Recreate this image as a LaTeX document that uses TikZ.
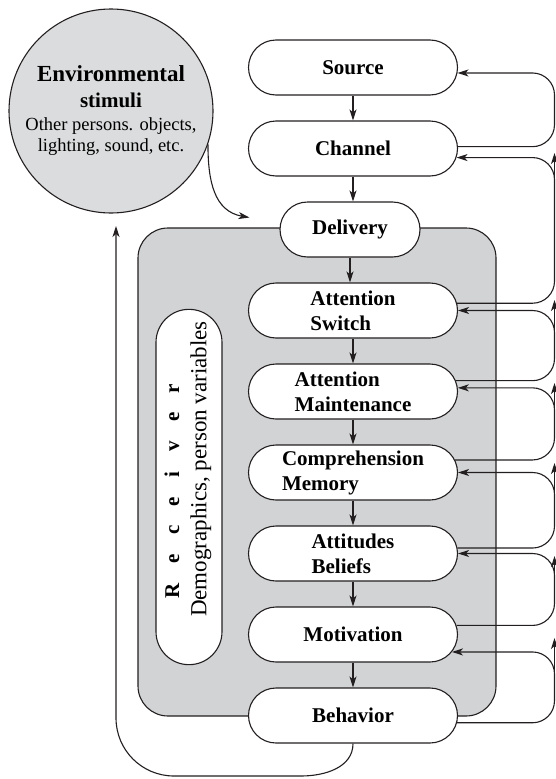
\documentclass[tikz,border=0pt]{standalone}
\usepackage{fontspec}
\setmainfont{Liberation Serif}
\usetikzlibrary{shapes.misc,arrows.meta,calc}
\definecolor{ink}{RGB}{35,31,32}
\definecolor{panelgray}{RGB}{209,211,212}
\definecolor{envgray}{RGB}{219,220,221}
\tikzset{
  stage/.style={rounded rectangle, draw=ink, fill=white, line width=1.1pt,
    minimum width=209pt, minimum height=55pt, inner sep=0pt, align=left,
    font=\fontsize{21}{25}\selectfont\bfseries},
  flow/.style={draw=ink, line width=1.1pt, -{Stealth[length=11pt,width=7pt,inset=3pt]}},
  feedback/.style={flow, rounded corners=22pt},
}
\newcommand{\lsp}{\hspace{19.5pt}}

\begin{document}
\begin{tikzpicture}[x=1pt,y=-1pt]
    \useasboundingbox (0,0) rectangle (556,779);

    % receiver panel and environment
    \node[draw=ink, fill=panelgray, line width=1.1pt, rounded corners=30pt, minimum width=358pt, minimum height=488pt] at (317,472) (panel){};
    \node[circle, draw=ink, fill=envgray, line width=1.1pt, minimum size=204pt, inner sep=0pt, align=center, font=\fontsize{18.5}{21}\selectfont] at (111,111) (env){{\fontsize{23}{26}\selectfont\bfseries Environmental}\\[5pt]{\fontsize{21}{24}\selectfont\bfseries stimuli}\\[2pt]{Other persons. objects,}\\{lighting, sound, etc.}};

    \node[rounded rectangle, draw=ink, fill=white, line width=1.1pt, minimum width=362pt, minimum height=66pt, rotate=90] at (189,487) (rcv){};
    \node[rotate=90, font=\fontsize{21}{25}\selectfont\bfseries] at ([xshift = -17pt, yshift = -4pt]rcv.center) (rcvname){R\lsp e\lsp c\lsp e\lsp i\lsp v\lsp e\lsp r};
    \node[rotate=90, font=\fontsize{23}{27}\selectfont] at ([xshift = 12pt, yshift = 18pt]rcv.center) (rcvvars){Demographics, person variables};

    % stages
    \node[stage] at (353,67.5) (src){Source};
    \node[stage] at ([yshift = -81pt]src) (chn){Channel};
    \node[stage, minimum width=140pt] at ([xshift = -3pt, yshift = -81pt]chn) (dlv){Delivery};
    \node[stage] at ([yshift = -162pt]chn) (asw){Attention\\Switch};
    \node[stage] at ([yshift = -81pt]asw) (amt){Attention\\Maintenance};
    \node[stage] at ([yshift = -81pt]amt) (cmp){Comprehension\\Memory};
    \node[stage] at ([yshift = -81pt]cmp) (att){Attitudes\\Beliefs};
    \node[stage] at ([yshift = -81pt]att) (mot){Motivation};
    \node[stage] at ([yshift = -81pt]mot) (beh){Behavior};

    \foreach \a/\b in {src/chn, chn/dlv, dlv/asw, asw/amt, amt/cmp, cmp/att, att/mot, mot/beh}
        \draw[flow] (\a.south) -- (\a.south |- \b.north);

    % feedback to the previous stage
    \coordinate (bus) at (554.5,0);
    \foreach \a/\b/\oa/\ob in {chn/src/1.4/-3, asw/chn/4.7/-5.3, amt/asw/6.4/0.8, cmp/amt/7.6/2.5, att/cmp/3.6/-0.8, mot/att/5.3/0.3, beh/mot/-4.1/-10.1}
        \draw[feedback] (\a.\oa) -| (bus |- \b.\ob) -- (\b.\ob);
    \foreach \ystart/\ytip in {180/153, 331/300, 409/383, 496/463, 575/556, 674/638}
        \draw[flow] ($(bus)+(0,\ystart)$) -- ($(bus)+(0,\ytip)$);

    % environment in, behavior back out
    \coordinate (dlvin) at ([xshift = -30pt, yshift = 12pt]dlv.west);
    \draw[flow] (env.-19) to[out=-90, in=170, looseness=1.1] (dlvin);
    \coordinate (envin) at (116,226);
    \draw[flow] (beh.south) to[out=-90, in=0] (301,776) -- (174,776) to[out=180, in=-90] (116,718) -- (envin);
\end{tikzpicture}
\end{document}
